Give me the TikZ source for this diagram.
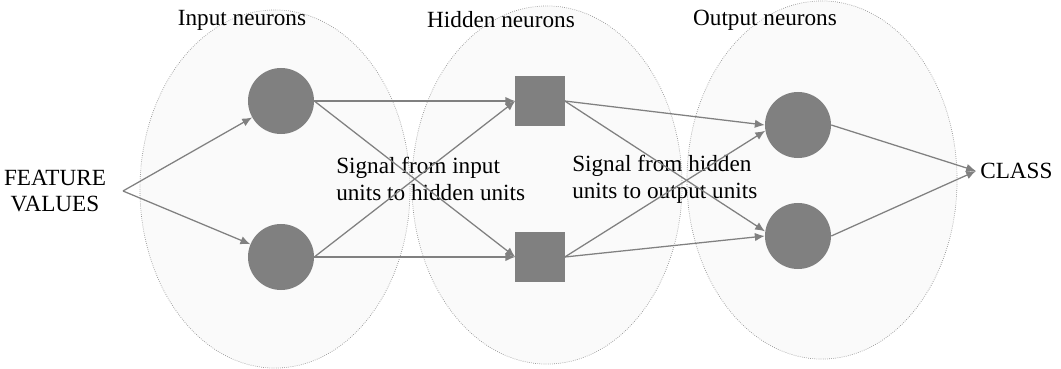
\documentclass[tikz,border=0pt]{standalone}
\usepackage{fontspec}
\setmainfont{Liberation Serif}
\usetikzlibrary{positioning}
\usetikzlibrary{arrows.meta}
\definecolor{nodegray}{HTML}{808080}
\definecolor{zonefill}{HTML}{FAFAFA}
\begin{document}
\begin{tikzpicture}[
    x=0.025cm, y=-0.025cm,
    font=\fontsize{16.5}{19}\selectfont,
    neuron/.style={circle,fill=nodegray,minimum size=1.65cm,inner sep=0pt},
    hidneuron/.style={rectangle,fill=nodegray,minimum size=1.225cm,inner sep=0pt},
    link/.style={-{Latex[length=7pt,width=6pt]},draw=nodegray,line width=0.9pt},
    zoneline/.style={draw=gray!85,densely dotted,line width=0.5pt}
    ]
    \useasboundingbox (0,0) rectangle (1061,369);

    \foreach \cx/\cy in {275/189,547/185,822/180}
      \fill[zonefill] (\cx,\cy) ellipse [x radius=3.375cm, y radius=4.475cm];
    \foreach \cx/\cy in {275/189,547/185,822/180}
      \draw[zoneline] (\cx,\cy) ellipse [x radius=3.375cm, y radius=4.475cm];

    \node (li) at (242,20) {Input neurons};
    \node (lh) at (501,20) {Hidden neurons};
    \node (lo) at (765,20) {Output neurons};

    \node[neuron] (i1) at (281,101) {};
    \node[neuron] (i2) at (281,257) {};
    \node[hidneuron] (h1) at (540,101) {};
    \node[hidneuron] (h2) at (540,257) {};
    \node[neuron] (o1) at (798,125) {};
    \node[neuron] (o2) at (798,236) {};

    \node[align=center] (fv) at (55,191) {FEATURE\\VALUES};
    \coordinate (fvp) at (123,191);
    \coordinate (clp) at (976,171);
    \node[anchor=west,inner sep=0pt] (cl) at (980,171) {CLASS};

    \node[align=left,anchor=west,inner sep=0pt] (s1) at (336,179) {Signal from input\\units to hidden units};
    \node[align=left,anchor=west,inner sep=0pt] (s2) at (572,179) {Signal from hidden\\units to output units};

    \path (fvp) edge[link] (i1)
    (fvp) edge[link] (i2)
    (i1.east) edge[link] (h1.west)
    (i1.east) edge[link] (h2.west)
    (i2.east) edge[link] (h1.west)
    (i2.east) edge[link] (h2.west)
    (h1.east) edge[link] (o1.west)
    (h2.east) edge[link] (o1.190)
    (h1.east) edge[link] (o2.172)
    (h2.east) edge[link] (o2.west)
    (o1.east) edge[link] (clp)
    (o2.east) edge[link] (clp)
    ;

  \end{tikzpicture}
\end{document}
